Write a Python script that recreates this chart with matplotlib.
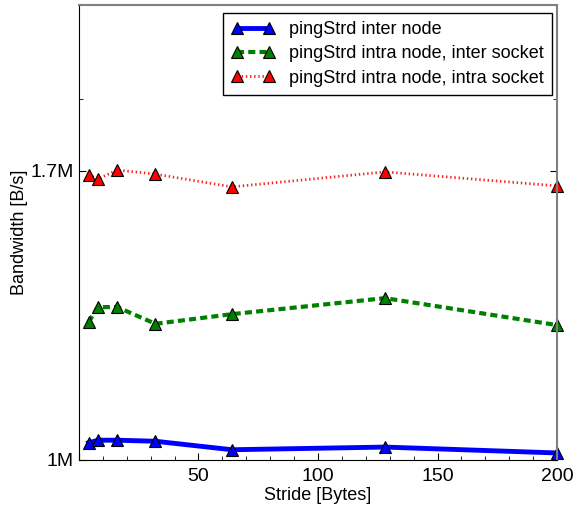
import matplotlib
matplotlib.use("Agg")
import matplotlib.pyplot as plt
from matplotlib.ticker import FixedLocator, NullFormatter, MultipleLocator, FuncFormatter

plt.rcParams['font.family'] = ['Liberation Sans', 'DejaVu Sans']

# stride in bytes
stride = [4, 8, 16, 32, 64, 128, 200]

# bandwidth in B/s
inter_node = [1.032e6, 1.037e6, 1.037e6, 1.035e6, 1.019e6, 1.024e6, 1.013e6]
intra_inter_socket = [1.288e6, 1.324e6, 1.324e6, 1.284e6, 1.307e6, 1.346e6, 1.281e6]
intra_intra_socket = [1.687e6, 1.675e6, 1.703e6, 1.690e6, 1.651e6, 1.697e6, 1.654e6]

labels = ['pingStrd inter node',
          'pingStrd intra node, inter socket',
          'pingStrd intra node, intra socket']

fig = plt.figure(figsize=(5.74, 5.08), dpi=100)
ax = fig.add_axes([0.1376, 0.0945, 0.9704 - 0.1376, 0.990 - 0.0945])

mk = dict(marker='^', markersize=9, markeredgecolor='black', markeredgewidth=0.8)
ax.plot(stride, inter_node, color='blue', lw=3.5, ls='-', markerfacecolor='blue', label=labels[0], **mk)
ax.plot(stride, intra_inter_socket, color='green', lw=3, ls=(0, (1.7, 1.0)), markerfacecolor='green', label=labels[1], **mk)
ax.plot(stride, intra_intra_socket, color='#ff2020', lw=2, ls=(0, (0.5, 1.0)), markerfacecolor='red', label=labels[2], **mk)
for l in ax.lines:
    l.set_clip_on(False)

ax.set_yscale('log')
ax.set_xlim(0, 200)
ax.set_ylim(1e6, 2.305e6)
ax.yaxis.set_major_locator(FixedLocator([1e6, 1.7e6]))
ax.yaxis.set_minor_locator(FixedLocator([1.94e6]))
ax.yaxis.set_minor_formatter(NullFormatter())
ax.set_yticklabels(['1M', '1.7M'])
ax.xaxis.set_major_locator(MultipleLocator(50))
ax.xaxis.set_minor_locator(MultipleLocator(10))
ax.xaxis.set_major_formatter(FuncFormatter(lambda v, p: '' if v == 0 else '%d' % v))

ax.tick_params(which='both', direction='in', right=True, top=False, labelsize=14)
ax.tick_params(which='major', length=5)
ax.tick_params(which='minor', length=3)
ax.tick_params(axis='x', which='major', pad=6)

for s in ['top', 'right']:
    ax.spines[s].set_color('#808080')
    ax.spines[s].set_linewidth(1.5)

ax.set_xlabel('Stride [Bytes]', fontsize=13, labelpad=1)
ax.set_ylabel('Bandwidth [B/s]', fontsize=13, labelpad=2)

leg = ax.legend(loc='upper right', bbox_to_anchor=(0.9895, 0.9824), numpoints=2,
                fontsize=13, fancybox=False, edgecolor='black', framealpha=1,
                handlelength=2.4, borderaxespad=0, labelspacing=0.4, borderpad=0.45)
leg.get_frame().set_linewidth(1.0)

fig.savefig('out.png', dpi=100)
